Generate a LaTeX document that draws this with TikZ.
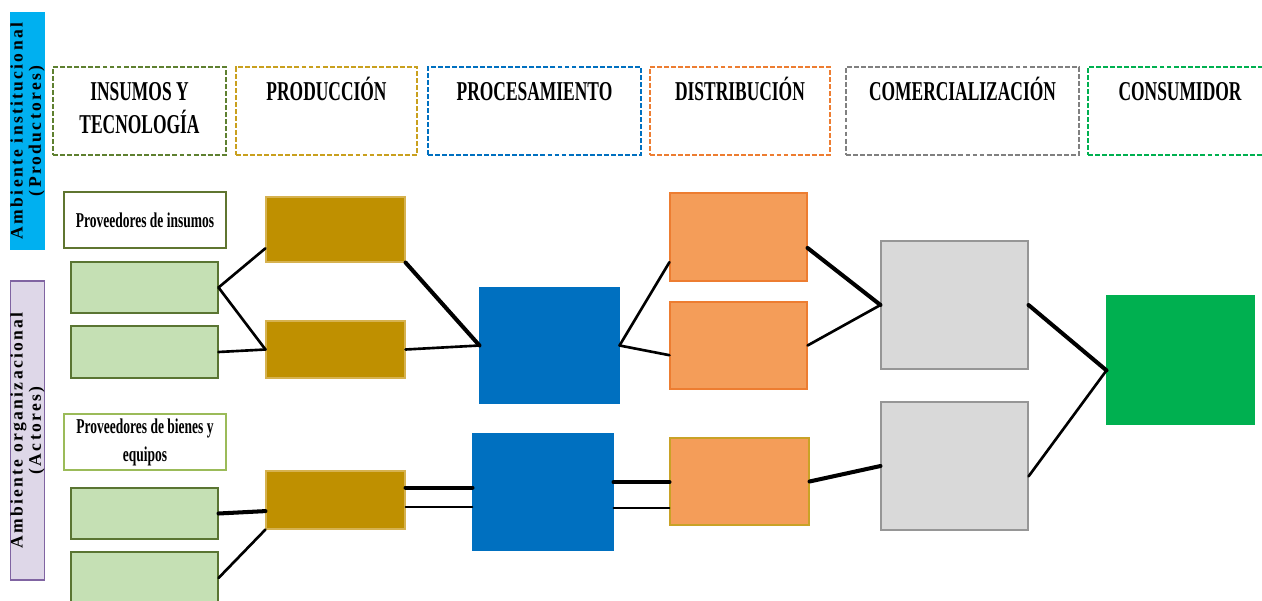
\documentclass[tikz,border=0pt]{standalone}
\usepackage{fontspec}
\setmainfont{Liberation Serif}
\newfontfamily\hdfont[FakeStretch=0.64]{Liberation Serif}
\newfontfamily\sidefont[LetterSpace=13]{Liberation Serif}

\definecolor{ambcyan}{RGB}{0,176,240}
\definecolor{amblila}{RGB}{222,215,232}
\definecolor{ambpurple}{RGB}{128,100,162}
\definecolor{insgreen}{RGB}{94,128,48}
\definecolor{prodgold}{RGB}{201,160,30}
\definecolor{procblue}{RGB}{0,112,192}
\definecolor{distorange}{RGB}{237,125,49}
\definecolor{comgray}{RGB}{128,128,128}
\definecolor{consgreen}{RGB}{0,176,80}
\definecolor{leafgreen}{RGB}{197,224,180}
\definecolor{leafedge}{RGB}{90,117,50}
\definecolor{provdark}{RGB}{95,117,48}
\definecolor{provlight}{RGB}{155,187,89}
\definecolor{goldfill}{RGB}{191,144,0}
\definecolor{goldedge}{RGB}{214,178,80}
\definecolor{orfill}{RGB}{244,157,89}
\definecolor{oredge}{RGB}{201,162,39}
\definecolor{grayfill}{RGB}{217,217,217}
\definecolor{grayedge}{RGB}{150,150,150}

\tikzset{
  sidebar/.style={rotate=90, align=center, inner sep=0pt, line width=0.8pt,
    font=\sidefont\bfseries\fontsize{10}{10.4}\selectfont},
  hdr/.style={draw=#1, line width=0.8pt, dash pattern=on 2.8pt off 1.2pt,
    minimum height=1.76cm},
  hdrtext/.style={font=\hdfont\bfseries\fontsize{15.5}{18.8}\selectfont,
    align=center, anchor=base, inner sep=0pt},
  provbox/.style={fill=white, line width=0.8pt, minimum width=3.24cm,
    minimum height=1.12cm, align=center, inner sep=0pt,
    font=\hdfont\bfseries\fontsize{12}{16}\selectfont},
  blk/.style 2 args={fill=#1, draw=#2, line width=0.6pt, inner sep=0pt},
  wire/.style={line width=1.5pt, line cap=round},
  wirethick/.style={line width=2.3pt, line cap=round},
  wirethin/.style={line width=1.1pt, line cap=round}
}

\begin{document}
\begin{tikzpicture}
  \clip (0,0) rectangle (25.24,12);

  % ambientes
  \node[sidebar, fill=ambcyan, draw=ambcyan, minimum width=4.72cm, minimum height=0.66cm] (amb) at (0.55,9.38) {Ambiente institucional\\(Productores)};
  \node[sidebar, fill=amblila, draw=ambpurple, minimum width=5.98cm, minimum height=0.66cm] (org) at (0.55,3.39) {Ambiente organizacional\\(Actores)};

  % encabezados
  \node[hdr=insgreen, minimum width=3.46cm] (ins) at (2.79,9.78) {};
  \node[hdr=prodgold, minimum width=3.62cm] (prod) at (6.53,9.78) {};
  \node[hdr=procblue, minimum width=4.26cm] (proc) at (10.69,9.78) {};
  \node[hdr=distorange, minimum width=3.60cm] (dist) at (14.80,9.78) {};
  \node[hdr=comgray, minimum width=4.66cm] (com) at (19.25,9.78) {};
  \node[hdr=consgreen, minimum width=3.68cm] (cons) at (23.60,9.78) {};
  \node[hdrtext] (insT) at ([yshift=-1.34cm]ins.north) {INSUMOS Y\\TECNOLOGÍA};
  \node[hdrtext] (prodT) at ([yshift=-0.68cm]prod.north) {PRODUCCIÓN};
  \node[hdrtext] (procT) at ([yshift=-0.68cm]proc.north) {PROCESAMIENTO};
  \node[hdrtext] (distT) at ([yshift=-0.68cm]dist.north) {DISTRIBUCIÓN};
  \node[hdrtext] (comT) at ([yshift=-0.68cm]com.north) {COMERCIALIZACIÓN};
  \node[hdrtext] (consT) at ([yshift=-0.68cm]cons.north) {CONSUMIDOR};

  % proveedores
  \node[provbox, draw=provdark] (provI) at (2.90,7.60) {Proveedores de insumos};
  \node[provbox, draw=provlight] (provB) at (2.90,3.16) {Proveedores de bienes y\\equipos};
  \node[blk={leafgreen}{leafedge}, minimum width=2.94cm, minimum height=1.02cm] (in1) at (2.89,6.25) {};
  \node[blk={leafgreen}{leafedge}, minimum width=2.94cm, minimum height=1.04cm] (in2) at (2.89,4.96) {};
  \node[blk={leafgreen}{leafedge}, minimum width=2.94cm, minimum height=1.02cm] (in3) at (2.89,1.73) {};
  \node[blk={leafgreen}{leafedge}, minimum width=2.94cm, minimum height=1.04cm] (in4) at (2.89,0.44) {};

  % produccion
  \node[blk={goldfill}{goldedge}, minimum width=2.78cm, minimum height=1.30cm] (pr1) at (6.71,7.41) {};
  \node[blk={goldfill}{goldedge}, minimum width=2.78cm, minimum height=1.14cm] (pr2) at (6.71,5.01) {};
  \node[blk={goldfill}{goldedge}, minimum width=2.78cm, minimum height=1.16cm] (pr3) at (6.71,2.00) {};

  % procesamiento
  \node[blk={procblue}{procblue}, minimum width=2.78cm, minimum height=2.30cm] (pc1) at (10.99,5.09) {};
  \node[blk={procblue}{procblue}, minimum width=2.80cm, minimum height=2.32cm] (pc2) at (10.86,2.16) {};

  % distribucion
  \node[blk={orfill}{distorange}, minimum width=2.74cm, minimum height=1.76cm] (di1) at (14.77,7.26) {};
  \node[blk={orfill}{distorange}, minimum width=2.74cm, minimum height=1.74cm] (di2) at (14.77,5.09) {};
  \node[blk={orfill}{oredge}, minimum width=2.78cm, minimum height=1.74cm] (di3) at (14.79,2.37) {};

  % comercializacion y consumidor
  \node[blk={grayfill}{grayedge}, minimum width=2.94cm, minimum height=2.56cm] (co1) at (19.09,5.90) {};
  \node[blk={grayfill}{grayedge}, minimum width=2.94cm, minimum height=2.56cm] (co2) at (19.09,2.68) {};
  \node[blk={consgreen}{consgreen}, minimum width=2.94cm, minimum height=2.56cm] (cn) at (23.61,4.80) {};

  % enlaces
  \draw[wire] (in1.east) -- (pr1.195);
  \draw[wire] (in1.east) -- (pr2.west);
  \draw[wire] (in2.east) -- (pr2.west);
  \draw[wirethick] (pr1.south east) -- (pc1.west);
  \draw[wire] (pr2.east) -- (pc1.west);
  \draw[wire] (pc1.east) -- (di1.200);
  \draw[wire] (pc1.east) -- (di2.188);
  \draw[wirethick] (di1.351) -- (co1.west);
  \draw[wire] (di2.east) -- (co1.west);
  \draw[wirethick] (co1.east) -- (cn.188);
  \draw[wire] (co2.352) -- (cn.188);
  \draw[wirethick] (di3.east) -- (co2.west);
  \draw[wirethick] (in3.east) -- (pr3.189);
  \draw[wire] (in4.east) -- (pr3.south west);
  \draw[wirethick] (pr3.10) -- (pr3.10 -| pc2.west);
  \draw[wirethin] (pr3.-6) -- (pr3.-6 -| pc2.west);
  \draw[wirethick] (pc2.8) -- (pc2.8 -| di3.west);
  \draw[wirethin] (pc2.-13) -- (pc2.-13 -| di3.west);
\end{tikzpicture}
\end{document}
